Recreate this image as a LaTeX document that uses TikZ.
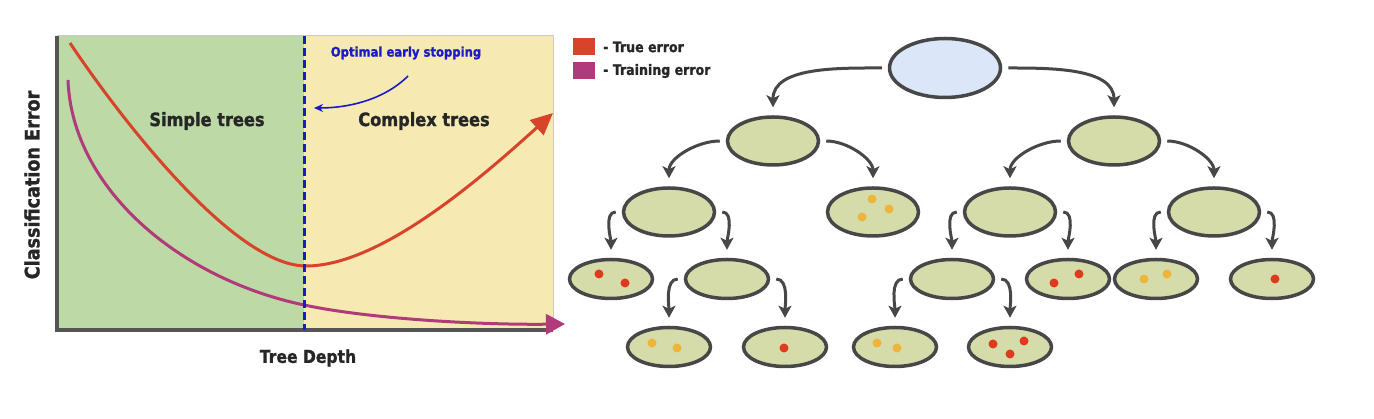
\documentclass[tikz,border=0pt]{standalone}
\usepackage{fontspec}
\newfontfamily\chunky{DejaVu Sans}[FakeStretch=0.88,FakeBold=1.2]
\usetikzlibrary{shapes.geometric,arrows.meta}
\definecolor{treeline}{HTML}{474747}
\definecolor{leafgreen}{HTML}{D5DCAA}
\definecolor{rootblue}{HTML}{DBE7F8}
\definecolor{plotgreen}{HTML}{BCD9A6}
\definecolor{plotyellow}{HTML}{F6EAB2}
\definecolor{axisgray}{HTML}{555555}
\definecolor{trueerr}{HTML}{D8432B}
\definecolor{trainerr}{HTML}{B03A7A}
\definecolor{stopblue}{HTML}{1A1AC8}
\definecolor{dotyellow}{HTML}{EEB43C}
\definecolor{dotred}{HTML}{DF3A1C}
\begin{document}
\begin{tikzpicture}[x=1pt,y=1pt]
	\tikzstyle{every node}+=[inner sep=0pt]
	\tikzstyle{root}=[ellipse,draw=treeline,line width=3.5pt,fill=rootblue,minimum width=111pt,minimum height=59pt]
	\tikzstyle{inner}=[ellipse,draw=treeline,line width=3.5pt,fill=leafgreen,minimum width=91pt,minimum height=48pt]
	\tikzstyle{small}=[ellipse,draw=treeline,line width=3.5pt,fill=leafgreen,minimum width=83pt,minimum height=39pt]
	\tikzstyle{edge}=[draw=treeline,line width=3pt,shorten <=6pt,shorten >=8pt,-{Stealth[length=12pt,width=13pt,inset=3pt]}]
	\tikzstyle{label}=[font=\chunky\bfseries\fontsize{18.4}{20}\selectfont,text=black!85]
	\tikzstyle{legend}=[font=\chunky\bfseries\fontsize{14.3}{16}\selectfont,text=black!85,anchor=west]
	\useasboundingbox (0,0) rectangle (1374,419);
	% plot
	\fill [plotgreen] (57,89) rectangle (304,383);
	\fill [plotyellow] (304,89) rectangle (553,383);
	\draw [black!20,line width=1pt] (57,383) -- (553,383) -- (553,89);
	\draw [axisgray,line width=4.5pt] (57,383) -- (57,89) -- (553,89);
	\draw [trainerr,line width=3pt,-{Triangle[length=19pt,width=20pt]}] (68,339) .. controls (72,230) and (180,140) .. (304,114) .. controls (370,100) and (480,94) .. (565,95);
	\draw [trueerr,line width=3pt,-{Triangle[length=22pt,width=20pt]}] (70,376) .. controls (110,316) and (230,153) .. (306,153) .. controls (380,153) and (480,240) .. (553,306);
	\draw [stopblue,line width=3pt,dash pattern=on 8pt off 4pt] (304,383) -- (304,89);
	\node (stop) at (406,366) {\chunky\bfseries\fontsize{13.2}{15}\selectfont\textcolor{stopblue}{Optimal early stopping}};
	\coordinate (stoptip) at (314,311);
	\draw [stopblue,line width=1.6pt,-{Stealth[length=9pt,width=8pt]}] (408,343) .. controls (385,320) and (350,311) .. (stoptip);
	\node [label] (simple) at (207,298) {Simple trees};
	\node [label] (complex) at (424,298) {Complex trees};
	\node [label,font=\chunky\bfseries\fontsize{20}{22}\selectfont,rotate=90] (ylab) at (32,234) {Classification Error};
	\node [label,font=\chunky\bfseries\fontsize{17.7}{20}\selectfont] (xlab) at (308,61) {Tree Depth};
	% legend
	\fill [trueerr] (573,364) rectangle (595,381);
	\fill [trainerr] (573,340) rectangle (595,357);
	\node [legend] (ltrue) at (603,372) {- True error};
	\node [legend] (ltrain) at (603,348) {- Training error};
	% tree
	\node [root] (r) at (945,351) {};
	\node [inner] (a) at (773,278) {};
	\node [inner] (b) at (1114,278) {};
	\node [inner] (aa) at (669,207) {};
	\node [inner] (ab) at (873,207) {};
	\node [inner] (ba) at (1010,207) {};
	\node [inner] (bb) at (1214,207) {};
	\node [small] (aaa) at (611,140) {};
	\node [small] (aab) at (727,140) {};
	\node [small] (baa) at (952,140) {};
	\node [small] (bab) at (1068,140) {};
	\node [small] (bba) at (1156,140) {};
	\node [small] (bbb) at (1272,140) {};
	\node [small] (aaba) at (669,72) {};
	\node [small] (aabb) at (785,72) {};
	\node [small] (baaa) at (895,72) {};
	\node [small] (baab) at (1010,72) {};
	\draw [edge] (r.west) to[out=180,in=90] (a.north);
	\draw [edge] (r.east) to[out=0,in=90] (b.north);
	\draw [edge] (a.west) to[out=180,in=90] (aa.north);
	\draw [edge] (a.east) to[out=0,in=90] (ab.north);
	\draw [edge] (b.west) to[out=180,in=90] (ba.north);
	\draw [edge] (b.east) to[out=0,in=90] (bb.north);
	\draw [edge] (aa.west) to[out=180,in=90] (aaa.north);
	\draw [edge] (aa.east) to[out=0,in=90] (aab.north);
	\draw [edge] (ba.west) to[out=180,in=90] (baa.north);
	\draw [edge] (ba.east) to[out=0,in=90] (bab.north);
	\draw [edge] (bb.west) to[out=180,in=90] (bba.north);
	\draw [edge] (bb.east) to[out=0,in=90] (bbb.north);
	\draw [edge] (aab.west) to[out=180,in=90] (aaba.north);
	\draw [edge] (aab.east) to[out=0,in=90] (aabb.north);
	\draw [edge] (baa.west) to[out=180,in=90] (baaa.north);
	\draw [edge] (baa.east) to[out=0,in=90] (baab.north);
	% dots
	\fill [dotyellow] (872,220) circle (4.5) (889,210) circle (4.5) (862,202) circle (4.5);
	\fill [dotred] (599,145) circle (4.5) (625,136) circle (4.5);
	\fill [dotyellow] (652,76) circle (4.5) (677,71) circle (4.5);
	\fill [dotred] (784,71) circle (4.5);
	\fill [dotyellow] (877,76) circle (4.5) (897,71) circle (4.5);
	\fill [dotred] (993,75) circle (4.5) (1024,78) circle (4.5) (1010,65) circle (4.5);
	\fill [dotred] (1054,136) circle (4.5) (1079,145) circle (4.5);
	\fill [dotyellow] (1144,140) circle (4.5) (1167,145) circle (4.5);
	\fill [dotred] (1275,140) circle (4.5);
\end{tikzpicture}
\end{document}
